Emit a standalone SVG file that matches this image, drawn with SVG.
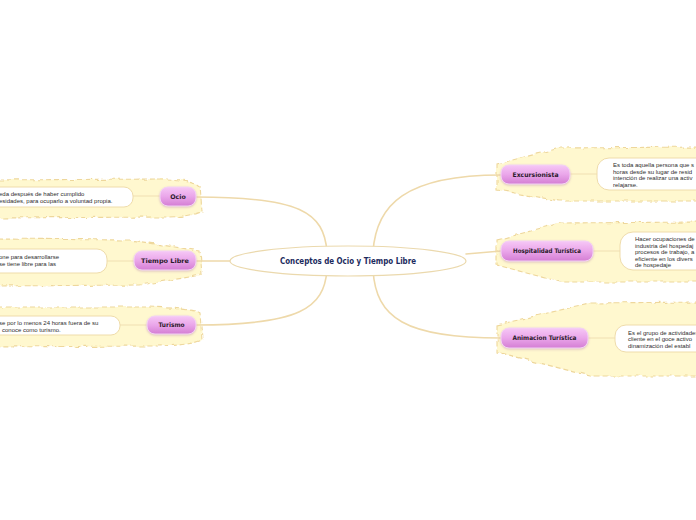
<svg xmlns="http://www.w3.org/2000/svg" width="696" height="520" viewBox="0 0 696 520">
<defs>
<linearGradient id="pill" x1="0" y1="0" x2="0" y2="1">
<stop offset="0" stop-color="#f6c8f6"/>
<stop offset="0.5" stop-color="#eaa6ea"/>
<stop offset="1" stop-color="#d47ed4"/>
</linearGradient>
<filter id="wavy" x="-5%" y="-20%" width="110%" height="140%">
<feTurbulence type="fractalNoise" baseFrequency="0.09" numOctaves="1" seed="3"/>
<feDisplacementMap in="SourceGraphic" scale="5" xChannelSelector="R" yChannelSelector="G"/>
</filter>
<filter id="shadow" x="-10%" y="-20%" width="120%" height="150%">
<feDropShadow dx="0" dy="1" stdDeviation="0.8" flood-color="#a060a0" flood-opacity="0.35"/>
</filter>
</defs>
<style>
.blob{fill:#fff8cf;stroke:#eed79c;stroke-width:1.1;stroke-dasharray:5 3}
.conn{fill:none;stroke:#eed9aa;stroke-width:1.6;stroke-linecap:round}
.sub{fill:none;stroke:#f0dfb2;stroke-width:1}
.pill{fill:url(#pill);stroke:#f3d2f3;stroke-width:1}
.box{fill:#ffffff;stroke:#efdcab;stroke-width:1}
.lbl{font-family:"DejaVu Sans",sans-serif;font-weight:bold;font-size:6.3px;fill:#2a1a2a;text-anchor:middle}
.txt{font-family:"Liberation Sans",Arial,sans-serif;font-size:6px;fill:#2e2e2e}
.title{font-family:"DejaVu Sans",sans-serif;font-weight:bold;font-size:8.4px;fill:#1c2b5e;text-anchor:middle}
</style>
<g id="blobs" filter="url(#wavy)">
<path class="blob" d="M-10,180 L165,179 Q196,180 200,186 L202,211 Q192,217 165,217 L-10,218 Z"/>
<path class="blob" d="M-10,239 L130,240 L200,251 L202,275 L140,285 L-10,286 Z"/>
<path class="blob" d="M-10,307 L150,307 Q196,309 200,313 L202,340 Q190,346 150,346 L-10,347 Z"/>
<path class="blob" d="M497,164 L560,148 L706,147 L706,201 L560,201 L497,190 Z"/>
<path class="blob" d="M497,240 L560,223 L706,222 L706,282 L560,282 L497,265 Z"/>
<path class="blob" d="M497,325 L590,303 L706,302 L706,376 L590,376 L497,352 Z"/>
</g>
<g id="connectors">
<path class="conn" d="M327,252 C324,212 300,197 196,197"/>
<path class="conn" d="M327,270 C324,308 300,325 196,325"/>
<path class="conn" d="M231,261 L196,261"/>
<path class="conn" d="M373,252 C376,205 405,175 501,175"/>
<path class="conn" d="M466,254 L501,251"/>
<path class="conn" d="M373,270 C376,318 405,338 501,338"/>
<path class="sub" d="M133,196 L160,196"/>
<path class="sub" d="M107,261 L134,261"/>
<path class="sub" d="M120,325 L147,325"/>
<path class="sub" d="M570,174 L597,174"/>
<path class="sub" d="M593,251 L620,251"/>
<path class="sub" d="M588,338 L615,338"/>
</g>
<g id="center">
<ellipse cx="348" cy="261" rx="118" ry="15" fill="#ffffff" stroke="#ebd9ad" stroke-width="1.2"/>
<text class="title" x="348" y="264" textLength="136" lengthAdjust="spacingAndGlyphs">Conceptos de Ocio y Tiempo Libre</text>
</g>
<g id="ocio">
<rect class="box" x="-20" y="187" width="153" height="20" rx="9"/>
<text class="txt" x="-1" y="195.5">eda después de haber cumplido</text>
<text class="txt" x="-1" y="202.5">esidades, para ocuparlo a voluntad propia.</text>
<rect class="pill" x="160" y="187" width="36" height="19" rx="8" filter="url(#shadow)"/>
<text class="lbl" x="178" y="198.5">Ocio</text>
</g>
<g id="tiempo-libre">
<rect class="box" x="-20" y="249" width="127" height="24" rx="10"/>
<text class="txt" x="-1" y="258.5">one para desarrollarse</text>
<text class="txt" x="-1" y="265.5">se tiene libre para las</text>
<rect class="pill" x="134" y="251" width="62" height="19" rx="8" filter="url(#shadow)"/>
<text class="lbl" x="165" y="262.5" textLength="48" lengthAdjust="spacingAndGlyphs">Tiempo Libre</text>
</g>
<g id="turismo">
<rect class="box" x="-20" y="316" width="140" height="19" rx="9"/>
<text class="txt" x="-1" y="324.5">se por lo menos 24 horas fuera de su</text>
<text class="txt" x="2" y="331.5">conoce como turismo.</text>
<rect class="pill" x="147" y="316" width="49" height="18" rx="8" filter="url(#shadow)"/>
<text class="lbl" x="171.5" y="327" textLength="26" lengthAdjust="spacingAndGlyphs">Turismo</text>
</g>
<g id="excursionista">
<rect class="pill" x="501" y="165" width="69" height="19" rx="8" filter="url(#shadow)"/>
<text class="lbl" x="535.5" y="176.5" textLength="46" lengthAdjust="spacingAndGlyphs">Excursionista</text>
<rect class="box" x="597" y="158" width="120" height="32" rx="12"/>
<text class="txt" x="613" y="167">Es toda aquella persona que s</text>
<text class="txt" x="613" y="173.5">horas desde su lugar de resid</text>
<text class="txt" x="613" y="180">intención de realizar una activ</text>
<text class="txt" x="613" y="186.5">relajarse.</text>
</g>
<g id="hospitalidad">
<rect class="pill" x="501" y="241" width="92" height="20" rx="8" filter="url(#shadow)"/>
<text class="lbl" x="547" y="253" textLength="68" lengthAdjust="spacingAndGlyphs">Hospitalidad Turística</text>
<rect class="box" x="620" y="232" width="100" height="38" rx="13"/>
<text class="txt" x="635" y="241">Hacer ocupaciones de</text>
<text class="txt" x="635" y="247.5">industria del hospedaj</text>
<text class="txt" x="635" y="254">procesos de trabajo, a</text>
<text class="txt" x="635" y="260.5">eficiente en los divers</text>
<text class="txt" x="635" y="267">de hospedaje</text>
</g>
<g id="animacion">
<rect class="pill" x="501" y="328" width="87" height="20" rx="8" filter="url(#shadow)"/>
<text class="lbl" x="544.5" y="340" textLength="64" lengthAdjust="spacingAndGlyphs">Animacion Turística</text>
<rect class="box" x="615" y="325" width="100" height="27" rx="11"/>
<text class="txt" x="628" y="334.5">Es el grupo de actividades</text>
<text class="txt" x="628" y="341">cliente en el goce activo</text>
<text class="txt" x="628" y="347.5">dinamización del establ</text>
</g>
</svg>
